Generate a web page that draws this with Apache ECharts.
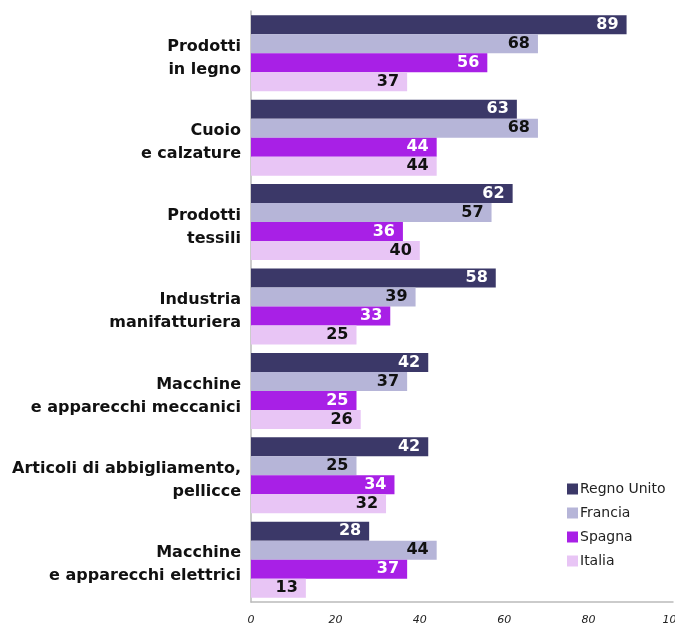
<!DOCTYPE html>
<html><head><meta charset="utf-8">
<script src="https://cdn.jsdelivr.net/npm/echarts@6/dist/echarts.min.js"></script>
<style>html,body{margin:0;padding:0;background:#fff}#c{width:675px;height:625px}</style>
</head><body><div id="c"></div>
<script>
const categories = ["Prodotti\nin legno","Cuoio\ne calzature","Prodotti\ntessili","Industria\nmanifatturiera","Macchine\ne apparecchi meccanici","Articoli di abbigliamento,\npellicce","Macchine\ne apparecchi elettrici"];
const seriesNames = ["Regno Unito","Francia","Spagna","Italia"];
const regnoUnito = [89,63,62,58,42,42,28];
const francia = [68,68,57,39,37,25,44];
const spagna = [56,44,36,33,25,34,37];
const italia = [37,44,40,25,26,32,13];
const xTicks = [0,20,40,60,80,100];

const colors = ["#3b3868","#b6b5d8","#a820e6","#e8c5f5"];
const labelColors = ["#ffffff","#111111","#ffffff","#111111"];
const values = [regnoUnito, francia, spagna, italia];
const font = "Tahoma, 'DejaVu Sans', Verdana, sans-serif";

const chart = echarts.init(document.getElementById('c'), null, {renderer:'canvas'});
chart.setOption({
  animation:false,
  textStyle:{fontFamily:font},
  grid:{left:251,right:2,top:11,bottom:23,containLabel:false,outerBoundsMode:'none'},
  legend:{
    orient:'vertical', left:562, top:477, itemWidth:11, itemHeight:11, itemGap:10, icon:'rect',
    textStyle:{fontSize:14,color:'#222',fontFamily:font, padding:[0,0,0,-3]},
    data:seriesNames
  },
  xAxis:{type:'value',min:0,max:100,interval:20,
    axisLine:{show:true,lineStyle:{color:'#bbbbbb',width:1.5}},
    axisTick:{show:false},splitLine:{show:false},
    axisLabel:{fontSize:11,fontStyle:'italic',color:'#222',margin:13,hideOverlap:false,
      formatter:v=>xTicks.includes(v)?String(v):''}
  },
  yAxis:{type:'category',data:categories,inverse:true,
    axisLine:{show:true,lineStyle:{color:'#bbbbbb',width:1.5}},
    axisTick:{show:false},
    axisLabel:{fontSize:16,fontWeight:'bold',color:'#111',margin:10,lineHeight:23,align:'right',
      formatter:v=>'{s| }\n'+v.split('\n').map(l=>'{t|'+l+'}').join('\n'),
      rich:{s:{fontSize:1,lineHeight:10},t:{fontSize:16,fontWeight:'bold',color:'#111',lineHeight:23,fontFamily:font,align:'right'}}}
  },
  series: seriesNames.map((n,i)=>({
    name:n,type:'bar',data:values[i],barGap:'0%',barCategoryGap:'10%',
    itemStyle:{color:colors[i]},
    label:{show:true,position:'insideRight',distance:8,color:labelColors[i],fontSize:16,fontWeight:'bold',fontFamily:font}
  }))
});
</script></body></html>
